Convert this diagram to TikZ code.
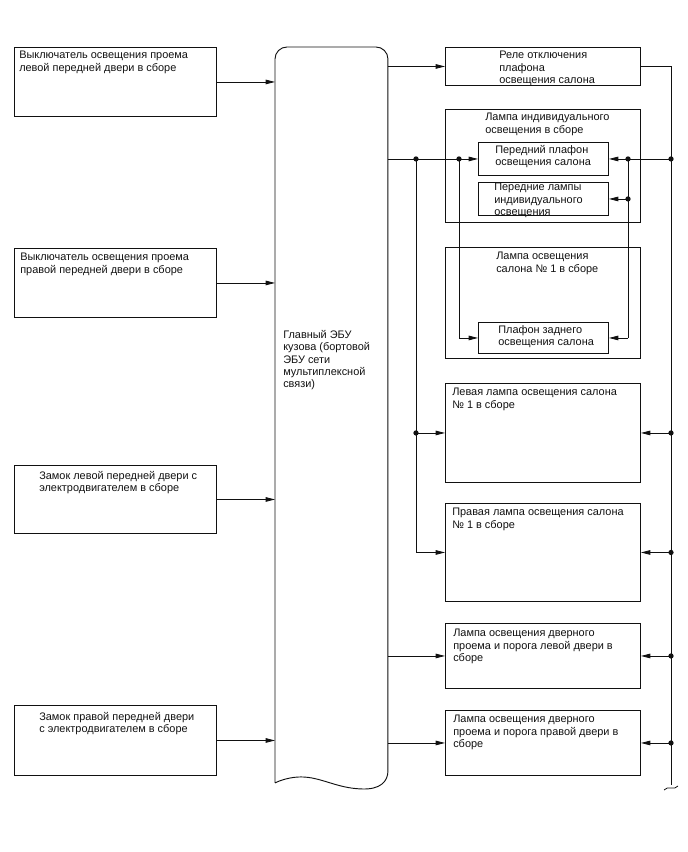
\documentclass[tikz,border=0pt]{standalone}
\usepackage{fontspec}
\setmainfont{Liberation Sans}
\usepackage{tikz}
\usetikzlibrary{positioning, arrows.meta, calc}
\definecolor{wireInk}{HTML}{111111}
\tikzset{
  unitbox/.style 2 args={rectangle, draw=wireInk, line width=0.7pt,
    anchor=north west, inner sep=0pt,
    minimum width=#1*0.75pt, minimum height=#2*0.75pt},
  tag/.style={anchor=north west, inner sep=0pt, align=left,
    text=wireInk, font=\fontsize{8.2}{9.3}\selectfont},
  feed/.style={-{Triangle[length=7pt, width=3.4pt]}, line width=0.6pt, wireInk},
  wire/.style={line width=0.6pt, wireInk},
  joint/.style={circle, fill=wireInk, inner sep=1.4pt},
}
\begin{document}
\begin{tikzpicture}[x=0.75pt, y=-0.75pt]
  \useasboundingbox (0,0) rectangle (688,852);
  % ---------------- inputs ----------------
  \node[unitbox={202}{69}] (swlf) at (14,47) {};
  \node[unitbox={202}{69}] (swrf) at (14,248) {};
  \node[unitbox={202}{68}] (locklf) at (14,465) {};
  \node[unitbox={202}{70}] (lockrf) at (14,705) {};
  \node[tag] (swlf-t) at ($(swlf.north west)+(5,4)$)
    {Выключатель освещения проема\\левой передней двери в сборе};
  \node[tag] (swrf-t) at ($(swrf.north west)+(6,5)$)
    {Выключатель освещения проема\\правой передней двери в сборе};
  \node[tag] (locklf-t) at ($(locklf.north west)+(25,6)$)
    {Замок левой передней двери с\\электродвигателем в сборе};
  \node[tag] (lockrf-t) at ($(lockrf.north west)+(25,7)$)
    {Замок правой передней двери\\с электродвигателем в сборе};
  % ---------------- body ECU ----------------
  \node[unitbox={112}{735}, draw=none] (ecu) at (275,47) {};
  \draw[wire, line width=0.7pt] (ecu.south west)
    [rounded corners=9pt] -- (ecu.north west) -- (ecu.north east)
    [sharp corners] -- ($(ecu.south east)+(0,-12)$)
    .. controls ($(ecu.south east)+(0,-2)$) and ($(ecu.south east)+(-7,7)$)
    .. ($(ecu.south east)+(-27,6)$)
    .. controls ($(ecu.south east)+(-52,5)$) and ($(ecu.south east)+(-67,-6)$)
    .. ($(ecu.south east)+(-87,-6)$)
    .. controls ($(ecu.south east)+(-97,-6)$) and ($(ecu.south east)+(-107,-3)$)
    .. (ecu.south west);
  \node[tag] (ecu-t) at ($(ecu.north west)+(8,283)$)
    {Главный ЭБУ\\кузова (бортовой\\ЭБУ сети\\мультиплексной\\связи)};
  % ---------------- outputs ----------------
  \node[unitbox={195}{38}] (relay) at (445,47) {};
  \node[unitbox={195}{113}] (indiv) at (445,109) {};
  \node[unitbox={130}{33}] (frontdome) at (478,142) {};
  \node[unitbox={130}{33}] (frontspot) at (478,182) {};
  \node[unitbox={195}{111}] (room1) at (445,247) {};
  \node[unitbox={130}{31}] (reardome) at (478,322) {};
  \node[unitbox={195}{99}] (lampl) at (445,383) {};
  \node[unitbox={195}{98}] (lampr) at (445,503) {};
  \node[unitbox={195}{65}] (courtl) at (445,623) {};
  \node[unitbox={195}{65}] (courtr) at (445,710) {};
  \node[tag] (relay-t) at ($(relay.north west)+(54,4)$)
    {Реле отключения\\плафона\\освещения салона};
  \node[tag] (indiv-t) at ($(indiv.north west)+(40,4)$)
    {Лампа индивидуального\\освещения в сборе};
  \node[tag] (frontdome-t) at ($(frontdome.north west)+(17,3)$)
    {Передний плафон\\освещения салона};
  \node[tag] (frontspot-t) at ($(frontspot.north west)+(16,1)$)
    {Передние лампы\\индивидуального\\освещения};
  \node[tag] (room1-t) at ($(room1.north west)+(51,5)$)
    {Лампа освещения\\салона № 1 в сборе};
  \node[tag] (reardome-t) at ($(reardome.north west)+(20,3)$)
    {Плафон заднего\\освещения салона};
  \node[tag] (lampl-t) at ($(lampl.north west)+(7,5)$)
    {Левая лампа освещения салона\\№ 1 в сборе};
  \node[tag] (lampr-t) at ($(lampr.north west)+(7,5)$)
    {Правая лампа освещения салона\\№ 1 в сборе};
  \node[tag] (courtl-t) at ($(courtl.north west)+(8,6)$)
    {Лампа освещения дверного\\проема и порога левой двери в\\сборе};
  \node[tag] (courtr-t) at ($(courtr.north west)+(8,5)$)
    {Лампа освещения дверного\\проема и порога правой двери в\\сборе};
  % ---------------- wiring ----------------
  \coordinate (colA) at (416,0);
  \coordinate (colB) at (459,0);
  \coordinate (colC) at (628,0);
  \coordinate (bus) at (671,0);
  \coordinate (busend) at (671,785);
  \foreach \src in {swlf, swrf, locklf, lockrf}
    \draw[feed] (\src.east) -- (\src.east -| ecu.west);
  \foreach \dst in {relay, frontdome, courtl, courtr}
    \draw[feed] (ecu.east |- \dst.west) -- (\dst.west);
  \draw[wire] (colA |- frontdome.west) -- (colA |- lampr.west);
  \draw[feed] (colA |- lampr.west) -- (lampr.west);
  \draw[feed] (colA |- lampl.west) -- (lampl.west);
  \draw[wire] (colB |- frontdome.west) -- (colB |- reardome.west);
  \draw[feed] (colB |- reardome.west) -- (reardome.west);
  \node[joint] (jA1) at (colA |- frontdome.west) {};
  \node[joint] (jA2) at (colA |- lampl.west) {};
  \node[joint] (jB1) at (colB |- frontdome.west) {};
  % bus from the relay
  \draw[wire] (relay.east) -- (bus |- relay.east) -- (busend);
  \draw[wire] ($(busend)+(-7,5)$) .. controls ($(busend)+(-3,0)$) and
    ($(busend)+(3,6)$) .. ($(busend)+(7,1)$);
  \foreach \dst in {frontdome, lampl, lampr, courtl, courtr}
  {
    \draw[feed] (bus |- \dst.east) -- (\dst.east);
    \node[joint] (jbus-\dst) at (bus |- \dst.east) {};
  }
  \draw[wire] (colC |- frontdome.east) -- (colC |- reardome.east);
  \draw[feed] (colC |- reardome.east) -- (reardome.east);
  \draw[feed] (colC |- frontspot.east) -- (frontspot.east);
  \node[joint] (jC1) at (colC |- frontdome.east) {};
  \node[joint] (jC2) at (colC |- frontspot.east) {};
\end{tikzpicture}
\end{document}
